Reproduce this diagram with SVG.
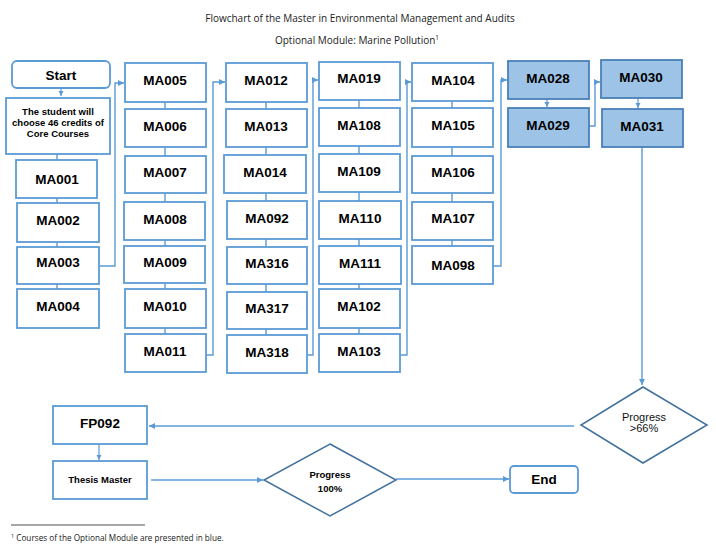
<svg xmlns="http://www.w3.org/2000/svg" width="716" height="554" viewBox="0 0 716 554">
<defs>
<marker id="ah" markerUnits="userSpaceOnUse" markerWidth="7" markerHeight="7" refX="6" refY="3.5" orient="auto">
<path d="M0,0.5 L6,3.5 L0,6.5 Z" fill="#5b9bd5"/>
</marker>
<marker id="ahs" markerUnits="userSpaceOnUse" markerWidth="6" markerHeight="6" refX="5" refY="3" orient="auto">
<path d="M0,0.5 L5,3 L0,5.5 Z" fill="#5b9bd5"/>
</marker>
</defs>
<style>
.bx{fill:#fff;stroke:#5b9bd5;stroke-width:1.8}
.bl{fill:#9dc3e6;stroke:#4a80b8;stroke-width:1.8}
.dm{fill:#fff;stroke:#41719c;stroke-width:1.5}
.t{font-family:"Liberation Sans",Arial,sans-serif;font-weight:bold;font-size:13.5px;fill:#000;text-anchor:middle}
.ts{font-family:"Liberation Sans",Arial,sans-serif;font-weight:bold;font-size:9.5px;fill:#000;text-anchor:middle}
.tn{font-family:"Liberation Sans",Arial,sans-serif;font-size:11px;fill:#111;text-anchor:middle}
.hd{font-family:"Open Sans","Liberation Sans",sans-serif;font-size:10px;fill:#222;text-anchor:middle}
.fn{font-family:"Open Sans","Liberation Sans",sans-serif;font-size:8.2px;fill:#222}
.c{fill:none;stroke:#5b9bd5;stroke-width:1.4}
.ca{fill:none;stroke:#5b9bd5;stroke-width:1.4;marker-end:url(#ah)}
.cs{fill:none;stroke:#5b9bd5;stroke-width:1.2;marker-end:url(#ahs)}
</style>
<rect width="716" height="554" fill="#fff"/>
<g id="title">
<text class="hd" x="360" y="22">Flowchart of the Master in Environmental Management and Audits</text>
<text class="hd" x="357" y="44">Optional Module: Marine Pollution<tspan font-size="6.5" dy="-4">1</tspan></text>
</g>
<g id="connectors">
<path class="cs" d="M61,88 V96"/>
<path class="c" d="M57,154 V160 M57,198 V203 M57,242 V247 M57,284 V289"/>
<path class="c" d="M165,102 V109 M165,147 V156 M165,193 V202 M165,240 V246 M165,283 V289 M165,328 V334"/>
<path class="c" d="M266,102 V109 M266,147 V155 M266,193 V201 M266,239 V247 M266,284 V292 M266,329 V335"/>
<path class="c" d="M359,100 V108 M359,146 V154 M359,192 V201 M359,239 V246 M359,284 V289 M359,328 V334"/>
<path class="c" d="M452,101 V108 M452,147 V156 M452,193 V202 M452,240 V246"/>
<path class="ca" d="M99,266 H115 V83 H124"/>
<path class="ca" d="M206,355 H213 V82 H225"/>
<path class="ca" d="M307,355 H313 V80 H318"/>
<path class="ca" d="M401,355 H407 V82 H411"/>
<path class="ca" d="M493,266 H501 V80 H507"/>
<path class="cs" d="M547,99 V107"/>
<path class="ca" d="M589,126 H595 V82 H600"/>
<path class="cs" d="M638,98 V108"/>
<path class="ca" d="M642,147 V385"/>
<path class="ca" d="M574,426 H149"/>
<path class="cs" d="M99,444 V460"/>
<path class="ca" d="M151,480 H263"/>
<path class="ca" d="M396,479 H509"/>
</g>
<g id="start"><rect class="bx" x="12" y="61" width="98" height="27" rx="5"/><text class="t" x="61" y="80">Start</text></g>
<g id="intro"><rect class="bx" x="6" y="98" width="104" height="56"/>
<text class="ts" x="58" y="115">The student will</text>
<text class="ts" x="58" y="126">choose 46 credits of</text>
<text class="ts" x="58" y="137">Core Courses</text></g>
<g id="MA001"><rect class="bx" x="16" y="160" width="81" height="38"/><text class="t" x="57" y="184">MA001</text></g>
<g id="MA002"><rect class="bx" x="17" y="203" width="82" height="39"/><text class="t" x="58" y="225">MA002</text></g>
<g id="MA003"><rect class="bx" x="17" y="247" width="82" height="37"/><text class="t" x="58" y="267">MA003</text></g>
<g id="MA004"><rect class="bx" x="17" y="289" width="82" height="39"/><text class="t" x="58" y="311">MA004</text></g>
<g id="MA005"><rect class="bx" x="125" y="63" width="81" height="39"/><text class="t" x="165" y="85">MA005</text></g>
<g id="MA006"><rect class="bx" x="125" y="109" width="81" height="38"/><text class="t" x="165" y="131">MA006</text></g>
<g id="MA007"><rect class="bx" x="125" y="156" width="81" height="37"/><text class="t" x="165" y="177">MA007</text></g>
<g id="MA008"><rect class="bx" x="124" y="202" width="81" height="38"/><text class="t" x="165" y="224">MA008</text></g>
<g id="MA009"><rect class="bx" x="124" y="246" width="81" height="37"/><text class="t" x="165" y="267">MA009</text></g>
<g id="MA010"><rect class="bx" x="125" y="289" width="81" height="39"/><text class="t" x="165" y="311">MA010</text></g>
<g id="MA011"><rect class="bx" x="125" y="334" width="81" height="38"/><text class="t" x="165" y="356">MA011</text></g>
<g id="MA012"><rect class="bx" x="226" y="63" width="81" height="39"/><text class="t" x="266" y="85">MA012</text></g>
<g id="MA013"><rect class="bx" x="226" y="109" width="81" height="38"/><text class="t" x="266" y="131">MA013</text></g>
<g id="MA014"><rect class="bx" x="224" y="155" width="82" height="38"/><text class="t" x="265" y="177">MA014</text></g>
<g id="MA092"><rect class="bx" x="227" y="201" width="80" height="38"/><text class="t" x="267" y="223">MA092</text></g>
<g id="MA316"><rect class="bx" x="227" y="247" width="80" height="37"/><text class="t" x="267" y="268">MA316</text></g>
<g id="MA317"><rect class="bx" x="227" y="292" width="80" height="37"/><text class="t" x="267" y="313">MA317</text></g>
<g id="MA318"><rect class="bx" x="227" y="335" width="80" height="38"/><text class="t" x="267" y="357">MA318</text></g>
<g id="MA019"><rect class="bx" x="319" y="62" width="81" height="38"/><text class="t" x="359" y="83">MA019</text></g>
<g id="MA108"><rect class="bx" x="319" y="108" width="81" height="38"/><text class="t" x="359" y="130">MA108</text></g>
<g id="MA109"><rect class="bx" x="319" y="154" width="81" height="38"/><text class="t" x="359" y="176">MA109</text></g>
<g id="MA110"><rect class="bx" x="319" y="201" width="82" height="38"/><text class="t" x="360" y="223">MA110</text></g>
<g id="MA111"><rect class="bx" x="319" y="246" width="82" height="38"/><text class="t" x="360" y="268">MA111</text></g>
<g id="MA102"><rect class="bx" x="319" y="289" width="81" height="39"/><text class="t" x="359" y="311">MA102</text></g>
<g id="MA103"><rect class="bx" x="319" y="334" width="81" height="38"/><text class="t" x="359" y="356">MA103</text></g>
<g id="MA104"><rect class="bx" x="412" y="63" width="81" height="38"/><text class="t" x="453" y="85">MA104</text></g>
<g id="MA105"><rect class="bx" x="412" y="108" width="81" height="39"/><text class="t" x="453" y="130">MA105</text></g>
<g id="MA106"><rect class="bx" x="412" y="156" width="81" height="37"/><text class="t" x="453" y="177">MA106</text></g>
<g id="MA107"><rect class="bx" x="412" y="202" width="81" height="38"/><text class="t" x="453" y="223">MA107</text></g>
<g id="MA098"><rect class="bx" x="412" y="246" width="81" height="38"/><text class="t" x="453" y="270">MA098</text></g>
<g id="MA028"><rect class="bl" x="508" y="61" width="81" height="38"/><text class="t" x="548" y="83">MA028</text></g>
<g id="MA029"><rect class="bl" x="508" y="108" width="81" height="39"/><text class="t" x="548" y="130">MA029</text></g>
<g id="MA030"><rect class="bl" x="601" y="60" width="81" height="38"/><text class="t" x="641" y="82">MA030</text></g>
<g id="MA031"><rect class="bl" x="602" y="109" width="81" height="38"/><text class="t" x="642" y="131">MA031</text></g>
<g id="progress66"><path class="dm" d="M643,387 L707,425 L643,463 L581,425 Z"/>
<text class="tn" x="644" y="421">Progress</text><text class="tn" x="644" y="432">&gt;66%</text></g>
<g id="FP092"><rect class="bx" x="53" y="406" width="94" height="38"/><text class="t" x="100" y="428">FP092</text></g>
<g id="thesis"><rect class="bx" x="53" y="461" width="94" height="38"/><text class="ts" x="100" y="483" font-size="10.2">Thesis Master</text></g>
<g id="progress100"><path class="dm" d="M330,444 L396,480 L330,516 L264,480 Z"/>
<text class="ts" x="330" y="478" font-size="11">Progress</text><text class="ts" x="330" y="492" font-size="11">100%</text></g>
<g id="end"><rect class="bx" x="510" y="466" width="68" height="27" rx="4"/><text class="t" x="544" y="484" font-size="13">End</text></g>
<g id="footnote">
<line x1="11" y1="525" x2="145" y2="525" stroke="#222" stroke-width="0.8"/>
<text class="fn" x="11" y="541"><tspan font-size="5.5" dy="-3">1</tspan><tspan dy="3"> Courses of the Optional Module are presented in blue.</tspan></text>
</g>
</svg>
